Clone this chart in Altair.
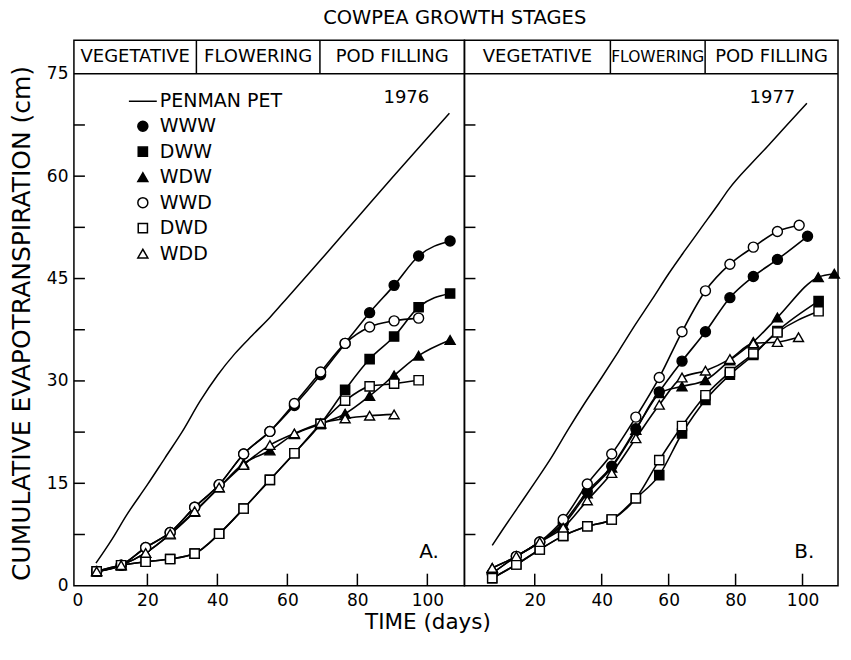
import altair as alt
import pandas as pd

FONT = "DejaVu Sans"

SERIES = ["PENMAN PET", "WWW", "DWW", "WDW", "WWD", "DWD", "WDD"]
MARKER_SHAPES = ["stroke", "circle", "square", "triangle-up", "circle", "square", "triangle-up"]
MARKER_FILLS = ["black", "black", "black", "black", "white", "white", "white"]
MARKER_STROKES = ["black", "black", "black", "black", "black", "black", "black"]
MARKER_SIZES = [780, 100, 85, 100, 100, 85, 100]

STAGES = ["VEGETATIVE", "FLOWERING", "POD FILLING"]
STAGE_FONT_1976 = [18, 18, 18]
STAGE_FONT_1977 = [18, 15.5, 18]

# ---------------- 1976 (panel A) ----------------
PET_DAYS_1976 = [5.3, 10, 14, 20, 25, 30, 35, 40, 45, 50, 55, 60, 70, 80, 90, 100, 106.3]
PET_1976 = [3.3, 6.9, 10.3, 14.8, 18.7, 22.6, 27.0, 30.8, 34.0, 36.7, 39.3, 42.2, 48.0, 53.9, 59.8, 65.6, 69.2]

DAYS_1976 = [5.5, 12.5, 19.5, 26.5, 33.5, 40.5, 47.5, 55, 62, 69.5, 76.5, 83.5, 90.5, 97.5, 106.5]
WWW_1976 = [2.1, 3.0, 5.6, 7.8, 11.5, 14.8, 19.3, 22.6, 26.4, 30.9, 35.5, 40.0, 44.0, 48.3, 50.5]
DWW_1976 = [2.1, 3.0, 3.5, 3.9, 4.7, 7.6, 11.3, 15.5, 19.4, 23.7, 28.7, 33.2, 36.5, 40.8, 42.8]
WDW_1976 = [2.1, 3.0, 4.8, 7.5, 10.8, 14.4, 17.9, 19.8, 22.2, 23.7, 25.2, 27.8, 30.8, 33.7, 36.0]
WWD_1976 = [2.1, 3.0, 5.6, 7.8, 11.5, 14.8, 19.3, 22.6, 26.7, 31.3, 35.5, 37.9, 38.8, 39.2]
DWD_1976 = [2.1, 3.0, 3.5, 3.9, 4.7, 7.6, 11.3, 15.5, 19.4, 23.7, 27.1, 29.2, 29.6, 30.1]
WDD_1976 = [2.1, 3.0, 4.8, 7.6, 10.9, 14.4, 17.7, 20.6, 22.3, 23.8, 24.5, 24.9, 25.1]
STAGE_BOUNDS_1976 = [34.0, 69.3]

# ---------------- 1977 (panel B) ----------------
PET_DAYS_1977 = [7.3, 10, 15, 20, 25, 30, 35, 40, 45, 50, 55, 60, 65, 70, 75, 78, 85, 90, 95, 101.3]
PET_1977 = [5.9, 7.9, 11.5, 15.1, 18.8, 22.9, 26.8, 30.5, 34.3, 38.2, 41.9, 45.7, 49.2, 52.6, 56.0, 58.1, 62.0, 64.6, 67.3, 70.7]

WWW_DAYS_1977 = [7.3, 14.5, 21.5, 28.5, 35.7, 43.0, 50.2, 57.2, 64.0, 71.0, 78.3, 85.3, 92.5, 101.5]
WWW_1977 = [1.8, 4.3, 6.4, 9.2, 13.8, 17.5, 23.0, 28.4, 32.9, 37.2, 42.2, 45.3, 47.8, 51.2]
DWW_DAYS_1977 = [7.3, 14.5, 21.5, 28.5, 35.7, 43.0, 50.2, 57.2, 64.0, 71.0, 78.3, 85.3, 92.5, 104.8]
DWW_1977 = [1.1, 3.1, 5.3, 7.3, 8.7, 9.7, 12.8, 16.2, 22.3, 27.2, 30.9, 33.8, 37.3, 41.7]
WDW_DAYS_1977 = [7.3, 14.5, 21.5, 28.5, 35.7, 43.0, 50.2, 57.2, 64.0, 71.0, 78.3, 85.3, 92.5, 104.7, 109.5]
WDW_1977 = [2.6, 4.3, 6.4, 8.9, 13.5, 17.3, 22.8, 28.2, 29.2, 30.1, 33.0, 35.7, 39.3, 45.2, 45.7]
WWD_DAYS_1977 = [7.3, 14.5, 21.5, 28.5, 35.7, 43.0, 50.2, 57.2, 64.0, 71.0, 78.3, 85.3, 92.5, 99.0]
WWD_1977 = [1.8, 4.3, 6.4, 9.7, 14.9, 19.3, 24.7, 30.5, 37.2, 43.2, 47.1, 49.6, 51.9, 52.8]
DWD_DAYS_1977 = [7.3, 14.5, 21.5, 28.5, 35.7, 43.0, 50.2, 57.2, 64.0, 71.0, 78.3, 85.3, 92.5, 104.8]
DWD_1977 = [1.1, 3.1, 5.3, 7.3, 8.7, 9.7, 12.8, 18.4, 23.4, 27.9, 31.3, 34.0, 37.1, 40.2]
WDD_DAYS_1977 = [7.3, 14.5, 21.5, 28.5, 35.7, 43.0, 50.2, 57.2, 64.0, 71.0, 78.3, 85.3, 92.5, 98.8]
WDD_1977 = [2.6, 4.3, 6.4, 8.5, 12.5, 16.5, 21.6, 26.5, 30.5, 31.5, 33.2, 35.5, 35.7, 36.4]
STAGE_BOUNDS_1977 = [42.6, 70.9]

# axes / layout values
X_DOMAIN = [-1.0, 110.6]
Y_DOMAIN = [0.0, 79.9]
STRIP_BASE = 75.0
Y_LABELS = [0, 15, 30, 45, 60, 75]
Y_TICKS = [7.5, 15, 22.5, 30, 37.5, 45, 52.5, 60, 67.5]
X_LABELS_A = [0, 20, 40, 60, 80, 100]
X_LABELS_B = [20, 40, 60, 80, 100]
X_TICKS = [20, 40, 60, 80, 100]

PANEL_H = 546
W_A = 391
W_B = 374


def series_frame(items):
    rows = []
    for name, days, vals in items:
        for d, v in zip(days, vals):
            rows.append({"series": name, "day": d, "cm": v})
    return pd.DataFrame(rows)


def panel(width, obs, pet_days, pet_vals, bounds, stage_fonts, year_text, year_pos, panel_text,
          panel_pos, x_labels, left_panel):
    xs = alt.Scale(domain=X_DOMAIN, nice=False, zero=False)
    ys = alt.Scale(domain=Y_DOMAIN, nice=False, zero=False)
    if left_panel:
        x_axis = alt.Axis(values=x_labels, title="TIME (days)", titleX=354, titleAlign="center",
                          labelPadding=7, titlePadding=3)
        y_axis = alt.Axis(values=Y_LABELS, title="CUMULATIVE EVAPOTRANSPIRATION (cm)",
                          labelPadding=6, titlePadding=12, titleY=283)
    else:
        x_axis = alt.Axis(values=x_labels, title=None, labelPadding=7)
        y_axis = None
    X = lambda f: alt.X(f, type="quantitative", scale=xs, axis=x_axis)
    Y = lambda f: alt.Y(f, type="quantitative", scale=ys, axis=y_axis)

    strip_line = alt.Chart(pd.DataFrame({"cm": [STRIP_BASE]})).mark_rule(
        color="black", strokeWidth=1.5).encode(y=Y("cm"))
    div_df = pd.DataFrame({"day": bounds, "cm": [STRIP_BASE] * len(bounds),
                           "cm2": [Y_DOMAIN[1]] * len(bounds)})
    strip_div = alt.Chart(div_df).mark_rule(color="black", strokeWidth=1.5).encode(
        x=X("day"), y=Y("cm"), y2="cm2")
    edges = [X_DOMAIN[0]] + list(bounds) + [X_DOMAIN[1]]
    mids = [(edges[i] + edges[i + 1]) / 2 for i in range(len(STAGES))]
    txt_df = pd.DataFrame({"day": mids, "cm": [(STRIP_BASE + Y_DOMAIN[1]) / 2] * 3,
                           "label": STAGES, "fs": stage_fonts})
    strip_text = alt.Chart(txt_df).mark_text(font=FONT, baseline="middle", color="black").encode(
        x=X("day"), y=Y("cm"), text="label:N", size=alt.Size("fs:Q", scale=None))

    ytick = alt.Chart(pd.DataFrame({"cm": Y_TICKS})).mark_rule(color="black", strokeWidth=1.5).encode(
        y=Y("cm"), x=alt.value(0), x2=alt.value(11))
    xtick = alt.Chart(pd.DataFrame({"day": X_TICKS})).mark_rule(color="black", strokeWidth=1.5).encode(
        x=X("day"), y=alt.value(PANEL_H), y2=alt.value(PANEL_H - 12))

    pet = alt.Chart(pd.DataFrame({"day": pet_days, "cm": pet_vals})).mark_line(
        color="black", strokeWidth=1.5, interpolate="monotone").encode(x=X("day"), y=Y("cm"))
    lines = alt.Chart(obs).mark_line(color="black", strokeWidth=1.6, interpolate="monotone").encode(
        x=X("day"), y=Y("cm"), detail="series:N")

    if left_panel:
        leg = alt.Legend(title=None, orient="none", legendX=54, legendY=46, padding=0,
                         labelFont=FONT, labelFontSize=19, labelColor="black", labelOffset=2,
                         symbolStrokeWidth=1.5, rowPadding=5.5, symbolOpacity=1)
    else:
        leg = None
    points = alt.Chart(obs).mark_point(filled=True, strokeWidth=1.4, opacity=1).encode(
        x=X("day"), y=Y("cm"),
        shape=alt.Shape("series:N", scale=alt.Scale(domain=SERIES, range=MARKER_SHAPES), legend=leg),
        fill=alt.Fill("series:N", scale=alt.Scale(domain=SERIES, range=MARKER_FILLS), legend=leg),
        stroke=alt.Stroke("series:N", scale=alt.Scale(domain=SERIES, range=MARKER_STROKES), legend=leg),
        size=alt.Size("series:N", scale=alt.Scale(type="ordinal", domain=SERIES, range=MARKER_SIZES),
                      legend=leg),
    )

    year = alt.Chart(pd.DataFrame({"day": [year_pos[0]], "cm": [year_pos[1]], "label": [year_text]})).mark_text(
        font=FONT, fontSize=18, color="black", baseline="middle").encode(x=X("day"), y=Y("cm"), text="label:N")
    plabel = alt.Chart(pd.DataFrame({"day": [panel_pos[0]], "cm": [panel_pos[1]], "label": [panel_text]})).mark_text(
        font=FONT, fontSize=20, color="black", baseline="middle").encode(x=X("day"), y=Y("cm"), text="label:N")

    return alt.layer(strip_line, strip_div, strip_text, ytick, xtick, pet, lines, points, year,
                     plabel).properties(width=width, height=PANEL_H)


obs_a = series_frame([
    ("WWW", DAYS_1976, WWW_1976), ("DWW", DAYS_1976, DWW_1976), ("WDW", DAYS_1976, WDW_1976),
    ("WWD", DAYS_1976, WWD_1976), ("DWD", DAYS_1976, DWD_1976), ("WDD", DAYS_1976, WDD_1976),
])
obs_b = series_frame([
    ("WWW", WWW_DAYS_1977, WWW_1977), ("DWW", DWW_DAYS_1977, DWW_1977), ("WDW", WDW_DAYS_1977, WDW_1977),
    ("WWD", WWD_DAYS_1977, WWD_1977), ("DWD", DWD_DAYS_1977, DWD_1977), ("WDD", WDD_DAYS_1977, WDD_1977),
])

left = panel(W_A, obs_a, PET_DAYS_1976, PET_1976, STAGE_BOUNDS_1976, STAGE_FONT_1976,
             "1976", (94.0, 71.4), "A.", (100.5, 5.0), X_LABELS_A, True)
right = panel(W_B, obs_b, PET_DAYS_1977, PET_1977, STAGE_BOUNDS_1977, STAGE_FONT_1977,
              "1977", (91.0, 71.4), "B.", (100.5, 4.9), X_LABELS_B, False)

chart = alt.hconcat(
    left, right, spacing=0, bounds="flush", padding=0,
    title=alt.TitleParams("COWPEA GROWTH STAGES", font=FONT, fontSize=19.5, fontWeight="normal",
                          color="black", anchor="middle", offset=10, dx=29),
).resolve_scale(
    shape="independent", fill="independent", size="independent", stroke="independent"
).configure_view(
    stroke="black", strokeWidth=1.5
).configure_axis(
    domain=False, ticks=False, grid=False,
    labelFont=FONT, labelFontSize=17, labelColor="black",
    titleFont=FONT, titleFontWeight="normal", titleColor="black",
).configure_axisX(
    titleFontSize=21.5
).configure_axisY(
    titleFontSize=25
)

chart.save("out.html", embed_options={"renderer": "svg", "actions": False})
